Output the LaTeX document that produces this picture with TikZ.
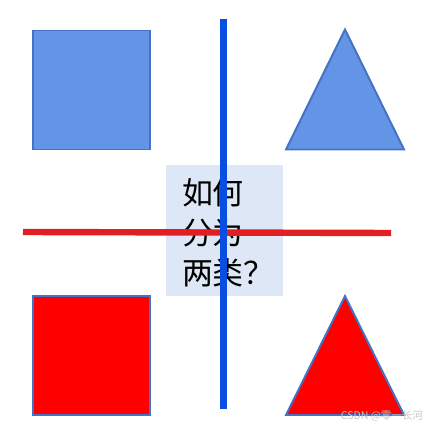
\documentclass[tikz,border=0pt]{standalone}
\usepackage{xcolor}
\usepackage{tikz}
\usepackage{fontspec}
\newfontfamily\cjk{Noto Sans CJK SC}

\definecolor{shapeblue}{RGB}{99,148,229}
\definecolor{shapeedge}{RGB}{68,114,196}
\definecolor{boxblue}{RGB}{221,231,246}
\definecolor{lineblue}{RGB}{8,78,226}
\definecolor{linered}{RGB}{226,30,36}

\tikzset{
  sq/.style={draw=shapeedge, line width=1.4pt, rectangle, minimum width=2.925cm, minimum height=2.975cm, inner sep=0pt},
  tri/.style={draw=shapeedge, line width=1.4pt, line join=miter},
  qbox/.style={fill=boxblue, rectangle, minimum width=2.925cm, minimum height=3.275cm, inner sep=0pt},
  qtext/.style={align=left, inner sep=0pt, font=\cjk\fontsize{22pt}{28.5pt}\selectfont},
  cutline/.style={line width=0.16cm},
}

\begin{document}
\begin{tikzpicture}%
\useasboundingbox (0,0) rectangle (10.75,10.75);%
\node[sq, fill=shapeblue] (bsq) at (2.2875, 8.5) {};%
\draw[tri, fill=shapeblue] (8.625, 10.0125) -- (10.1, 7.0125) -- (7.15, 7.0125) -- cycle;%
\node[sq, fill=red] (rsq) at (2.2875, 1.8625) {};%
\draw[tri, fill=red] (8.625, 3.35) -- (10.1, 0.375) -- (7.15, 0.375) -- cycle;%
\node[qbox] (qbox) at (5.6125, 4.9875) {};%
\node[qtext, anchor=west] (qtext) at ([xshift=0.4cm, yshift=-0.06cm]qbox.west) {如何\\分为\\两类？};%
\coordinate (hleft) at (0.575, 4.95);%
\coordinate (hright) at (9.775, 4.925);%
\coordinate (vtop) at (5.5875, 10.275);%
\coordinate (vbot) at (5.5875, 0.525);%
\draw[cutline, linered] (hleft) -- (hright);%
\draw[cutline, lineblue] (vtop) -- (vbot);%
\node[text=gray!45, font=\cjk\fontsize{7.5pt}{9pt}\selectfont, anchor=east] (mark) at (10.7, 0.36) {CSDN @零一长河};%
\end{tikzpicture}
\end{document}
